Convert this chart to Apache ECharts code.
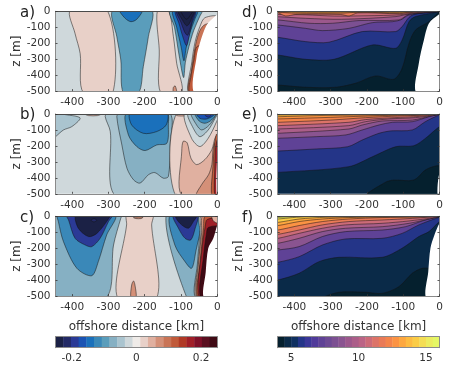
<!DOCTYPE html>
<html>
<head>
<meta charset="utf-8">
<style>html,body{margin:0;padding:0;background:#fff}#main{width:463px;height:366px}</style>
<script src="https://cdn.jsdelivr.net/npm/echarts@6/dist/echarts.min.js"></script>
</head>
<body>
<div id="main"></div>
<script>
// tick labels
const xTicks = [-400, -300, -200, -100, 0];
const zTicks = [-500, -400, -300, -200, -100, 0];
const velTicks = [-0.2, 0, 0.2];
const tempTicks = [5, 10, 15];

// colorbar steps, cold to warm
const velColors = ['#1b2145','#232a66','#2b3a96','#1b53b3','#1a70bb','#3a88b8','#5a9dbb','#86b0c3','#aac4cf','#cfd8db','#efebe8','#e8d0c8','#e0b0a0','#d49078','#c97456','#c05a3a','#b03a26','#a01f28','#7e1028','#5a0f20','#3f0a14'];
const tempColors = ['#05202e','#0a2a48','#0f3060','#243588','#3b3798','#503a9a','#5f4296','#6d4a94','#7c5092','#8a5490','#9c588c','#ab5e89','#bb6485','#cc6b78','#dc7368','#e97a57','#f3844b','#fb9343','#fda73f','#fdbb41','#fbcc46','#f4dd54','#ecec60','#e5f765'];

// contour regions: [level step, [[km, m], ...]]
const full = [[-460,10],[10,10],[10,-510],[-460,-510]];

const panelA = [
  [9, full],
  [11, [[-405,5],[-392,-140],[-378,-265],[-369,-510],[-288,-510],[-303,5]]],
  [6, [[-288,5],[-277,-159],[-266,-305],[-259,-510],[-217,-510],[-204,-347],[-190,-159],[-181,5]]],
  [4, [[-268,5],[-254,-44],[-238,-65],[-222,-50],[-208,5]]],
  [11, [[-165,5],[-160,-242],[-156,-510],[-98,-510],[-112,-326],[-121,-159],[-135,5]]],
  [13, [[-121,-510],[-121,-476],[-116,-468],[-112,-510]]],
  [11, [[-34,-40],[-48,-96],[-61,-190],[-70,-315],[-77,-510],[5,-510],[5,-40]]],
  [14, [[-33,-82],[-48,-120],[-60,-210],[-71,-367],[-78,-510],[5,-510],[5,-82]]],
  [15, [[-55,-220],[-64,-300],[-72,-400],[-75,-510],[5,-510],[5,-220]]],
  [6, [[-130,5],[-118,-100],[-105,-280],[-93,-415],[-88,-320],[-78,-220],[-65,-120],[-48,-30],[-42,5]]],
  [4, [[-122,5],[-112,-100],[-100,-220],[-92,-310],[-86,-230],[-75,-130],[-62,-50],[-55,5]]],
  [2, [[-115,5],[-105,-80],[-95,-160],[-85,-215],[-78,-160],[-70,-80],[-60,5]]],
  [1, [[-112,5],[-100,-70],[-90,-130],[-82,-150],[-75,-110],[-68,-50],[-62,5]]],
  [0, [[-108,5],[-96,-55],[-85,-90],[-78,-80],[-70,-40],[-64,5]]],
  [0, [[-100,5],[-92,-35],[-84,-50],[-76,-30],[-68,5]]]
];
const landA = [[5,-15],[-2,-23],[-29,-85],[-48,-200],[-57,-283],[-64,-510],[5,-510]];

const panelB = [
  [9, full],
  [8, [[-460,-8],[-400,-10],[-378,-27],[-401,-79],[-424,-100],[-460,-160]]],
  [8, [[-309,-15],[-295,-110],[-282,-510],[-116,-510],[-119,-215],[-114,5],[-300,5]]],
  [7, [[-277,-17],[-263,-194],[-249,-340],[-231,-412],[-213,-433],[-190,-381],[-172,-367],[-149,-402],[-135,-392],[-130,-194],[-132,5],[-270,5]]],
  [5, [[-250,5],[-245,-131],[-222,-204],[-199,-229],[-167,-194],[-139,-183],[-135,-69],[-139,5]]],
  [4, [[-240,5],[-236,-69],[-204,-121],[-167,-110],[-141,-69],[-139,5]]],
  [12, [[-365,0],[-355,-10],[-330,-10],[-320,0]]],
  [11, [[-112,5],[-115,-510],[5,-510],[5,5]]],
  [12, [[-98,-510],[-98,-233],[-94,-171],[-83,-181],[-73,-275],[-57,-317],[-34,-285],[-15,-223],[-6,-150],[5,-120],[5,-510]]],
  [13, [[-57,-510],[-43,-442],[-24,-380],[-15,-317],[-10,-200],[5,-150],[5,-510]]],
  [15, [[-15,-510],[-12,-330],[-8,-200],[-3,-130],[5,-120],[5,-510]]],
  [17, [[-7,-510],[-7,-350],[-5,-220],[0,-160],[5,-160],[5,-510]]],
  [12, [[-112,5],[-112,-10],[-86,-10],[-84,5]]],
  [9, [[-89,5],[-71,-152],[-48,-204],[-25,-152],[-2,-48],[5,5]]],
  [8, [[-80,5],[-66,-90],[-48,-142],[-25,-100],[-6,-27],[0,5]]],
  [7, [[-71,5],[-57,-69],[-43,-100],[-22,-69],[-6,-17],[-2,5]]],
  [5, [[-61,5],[-50,-44],[-34,-58],[-16,-38],[-4,5]]],
  [3, [[-57,5],[-48,-27],[-29,-31],[-11,-10],[-8,5]]],
  [2, [[-38,5],[-25,-20],[-13,5]]]
];
const landB = [[5,-200],[-1,-300],[-2,-510],[5,-510]];

const panelC = [
  [9, full],
  [7, [[-460,10],[-460,-510],[-307,-510],[-286,-180],[-266,-12],[-262,10]]],
  [11, [[-249,10],[-250,-54],[-275,-510],[-167,-510],[-181,-54],[-178,10]]],
  [13, [[-238,-510],[-236,-430],[-231,-405],[-227,-430],[-224,-510]]],
  [13, [[-231,-8],[-225,-14],[-210,-14],[-205,-6],[-218,-4]]],
  [7, [[-141,10],[-84,-510],[-50,-510],[-50,10]]],
  [5, [[-440,5],[-438,-33],[-424,-159],[-387,-326],[-346,-372],[-328,-284],[-305,-117],[-282,5]]],
  [2, [[-415,5],[-410,-23],[-392,-138],[-364,-180],[-346,-190],[-323,-138],[-300,-33],[-291,5]]],
  [0, [[-389,5],[-383,-75],[-355,-127],[-332,-107],[-305,-33],[-297,5]]],
  [1, [[-348,-25],[-340,-15],[-332,-25],[-340,-35]]],
  [5, [[-130,5],[-117,-180],[-89,-284],[-71,-326],[-61,-242],[-48,5]]],
  [2, [[-121,5],[-107,-75],[-89,-138],[-73,-148],[-61,-75],[-55,5]]],
  [0, [[-115,5],[-103,-44],[-80,-75],[-66,-33],[-57,5]]],
  [9, [[-48,5],[-48,-100],[-55,-300],[-60,-510],[5,-510],[5,5]]],
  [11, [[-44,5],[-45,-100],[-53,-300],[-58,-510],[5,-510],[5,5]]],
  [13, [[-40,5],[-43,-100],[-52,-300],[-55,-510],[5,-510],[5,5]]],
  [15, [[-33,5],[-38,-80],[-48,-300],[-53,-510],[5,-510],[5,5]]],
  [17, [[-28,-20],[-33,-60],[-42,-200],[-50,-510],[5,-510],[5,-20]]],
  [20, [[-25,-70],[-30,-110],[-38,-250],[-46,-510],[5,-510],[5,-70]]],
  [12, [[-15,5],[-12,-25],[-4,-40],[5,-40],[5,5]]]
];
const landC = [[5,-40],[0,-54],[-11,-138],[-25,-200],[-32,-350],[-37,-510],[5,-510]];

// right column: each line is the lower edge of a warmer layer, [km, m]
const panelD = [
  [1, [[-445,-462],[-369,-476],[-286,-476],[-230,-450],[-176,-405],[-126,-426],[-103,-357],[-84,-200],[-66,-117],[-29,-65],[-2,-8]]],
  [3, [[-445,-274],[-369,-301],[-291,-301],[-185,-211],[-121,-232],[-103,-180],[-84,-65],[-66,-33],[-2,-4]]],
  [6, [[-445,-163],[-369,-190],[-305,-194],[-213,-127],[-121,-127],[-103,-96],[-84,-38],[-66,-17],[-2,-2]]],
  [8, [[-445,-86],[-369,-107],[-323,-121],[-250,-107],[-185,-71],[-130,-65],[-107,-54],[-84,-23],[-2,-2]]],
  [10, [[-445,-54],[-360,-75],[-295,-75],[-222,-58],[-112,-54],[-84,-18],[-40,-8],[-2,-1]]],
  [12, [[-445,-34],[-369,-44],[-270,-50],[-120,-33],[-80,-14],[-40,-6],[-2,0]]],
  [13, [[-445,-20],[-369,-22],[-290,-30],[-200,-28],[-110,-22],[-70,-10],[-40,-4],[-2,0]]],
  [15, [[-445,-10],[-424,-29],[-396,-20],[-272,-20],[-249,-29],[-225,-10],[-110,-15],[-70,-6],[-2,0]]],
  [17, [[-445,-6],[-396,-12],[-272,-12],[-225,-6],[-110,-10],[-70,-3],[-2,0]]],
  [19, [[-445,-3],[-396,-6],[-272,-6],[-200,-3],[-110,-6],[-70,-1],[-2,0]]]
];
const landD = [[5,-15],[-2,-20],[-29,-75],[-43,-180],[-57,-326],[-64,-510],[5,-510]];

const panelE = [
  [3, [[-445,-366],[-250,-330],[-185,-268],[-121,-205],[-71,-199],[-39,-153],[0,-79]]],
  [6, [[-445,-232],[-340,-219],[-253,-205],[-213,-163],[-167,-121],[-135,-106],[-75,-100],[-39,-48],[0,-6]]],
  [9, [[-445,-152],[-340,-142],[-258,-131],[-213,-100],[-167,-69],[-130,-52],[-75,-48],[-29,-17],[0,-3]]],
  [11, [[-445,-121],[-250,-94],[-213,-69],[-158,-44],[-75,-38],[-20,-10],[0,-2]]],
  [12, [[-445,-94],[-250,-73],[-204,-48],[-140,-31],[-66,-23],[-15,-6],[0,-1]]],
  [14, [[-445,-73],[-250,-52],[-204,-35],[-125,-23],[-55,-15],[-10,-4],[0,0]]],
  [16, [[-445,-52],[-300,-38],[-204,-23],[-110,-12],[-50,-8],[0,0]]],
  [17, [[-445,-31],[-300,-21],[-165,-10],[-66,-6],[0,0]]],
  [19, [[-445,-17],[-340,-10],[-204,-6],[-66,-3],[0,0]]],
  [21, [[-445,-6],[-340,-3],[-204,-1],[0,0]]]
];
const deepE = [[-199,-510],[-149,-428],[-126,-414],[-71,-414],[-39,-351],[-11,-326],[5,-330],[5,-510]];
const landE = [[5,-340],[-3,-400],[-5,-510],[5,-510]];

const panelF = [
  [3, [[-445,-399],[-387,-357],[-332,-284],[-277,-257],[-158,-257],[-103,-200],[-57,-127],[-29,-96],[0,-33]]],
  [6, [[-445,-288],[-387,-253],[-323,-180],[-259,-142],[-158,-138],[-103,-107],[-57,-54],[0,-6]]],
  [9, [[-445,-211],[-387,-190],[-323,-127],[-259,-96],[-158,-86],[-94,-65],[-39,-23],[0,-3]]],
  [11, [[-445,-169],[-387,-138],[-323,-96],[-259,-75],[-158,-65],[-84,-44],[-29,-17],[0,-2]]],
  [13, [[-445,-138],[-387,-107],[-323,-75],[-259,-54],[-158,-44],[-84,-29],[-20,-10],[0,-1]]],
  [15, [[-445,-113],[-387,-86],[-323,-54],[-250,-33],[-158,-23],[-75,-13],[0,0]]],
  [17, [[-445,-86],[-387,-58],[-323,-33],[-250,-17],[-158,-8],[-60,-5],[0,0]]],
  [18, [[-445,-58],[-387,-33],[-323,-17],[-250,-8],[-158,-4],[0,0]]],
  [20, [[-445,-38],[-387,-17],[-313,-6],[-200,-2],[0,0]]],
  [22, [[-445,-17],[-405,-8],[-360,-2],[-300,0]]],
  [23, [[-445,-6],[-405,-2],[-380,0]]]
];
const deepF = [[-318,-510],[-277,-476],[-204,-476],[-158,-483],[-112,-441],[-75,-357],[-48,-326],[-25,-326],[5,-326],[5,-510]];
const landF = [[5,-44],[0,-44],[-14,-117],[-25,-200],[-31,-347],[-37,-510],[5,-510]];

const lineColor = 'rgba(20,20,20,0.85)';

function withTop(regions) {
  return regions.map(r => {
    const line = r[1];
    const last = line[line.length - 1];
    return [r[0], [[-460, line[0][1]]].concat(line, [[10, last[1]], [10, 10], [-460, 10]])];
  });
}

const columns = [
  {left: 55.5, x: 0, colors: velColors},
  {left: 277.7, x: 1, colors: tempColors}
];
const rows = [11.3, 114, 216.3];
const panelW = 161.8, panelH = 79.8;

const panels = [
  {name: 'a)', col: 0, row: 0, regions: panelA, land: landA},
  {name: 'b)', col: 0, row: 1, regions: panelB, land: landB},
  {name: 'c)', col: 0, row: 2, regions: panelC, land: landC},
  {name: 'd)', col: 1, row: 0, regions: [[0, full]].concat(withTop(panelD)), land: landD},
  {name: 'e)', col: 1, row: 1, regions: [[1, full], [0, deepE]].concat(withTop(panelE)), land: landE},
  {name: 'f)', col: 1, row: 2, regions: [[1, full], [0, deepF]].concat(withTop(panelF)), land: landF}
];

const tickFont = {fontFamily: 'DejaVu Sans', fontSize: 10.5, color: '#333'};
const frame = {show: true, onZero: false, lineStyle: {color: '#8a8a8a', width: 1}};
const topFrame = {show: true, onZero: false, lineStyle: {color: '#4a4a4a', width: 1}};

const grid = [], xAxis = [], yAxis = [], series = [], graphic = [];

function addFrame(gridIndex, xOpt, yOpt, topLine) {
  xAxis.push(Object.assign({type: 'value', gridIndex: gridIndex, position: 'bottom', z: 5, axisLine: frame, splitLine: {show: false}}, xOpt));
  xAxis.push({type: 'value', gridIndex: gridIndex, position: 'top', min: xOpt.min, max: xOpt.max, z: 5, axisLine: topLine, axisTick: {show: false}, axisLabel: {show: false}, splitLine: {show: false}});
  yAxis.push(Object.assign({type: 'value', gridIndex: gridIndex, position: 'left', z: 5, axisLine: frame, splitLine: {show: false}}, yOpt));
  yAxis.push({type: 'value', gridIndex: gridIndex, position: 'right', min: yOpt.min, max: yOpt.max, z: 5, axisLine: frame, axisTick: {show: yOpt.rightTicks !== false, inside: true, length: 2, lineStyle: {color: '#333', width: 0.8}, customValues: zTicks}, axisLabel: {show: false}, splitLine: {show: false}});
}

panels.forEach((p, i) => {
  const left = columns[p.col].left;
  const top = rows[p.row];
  const colors = columns[p.col].colors;
  grid.push({left: left, top: top, width: panelW, height: panelH});
  addFrame(i, {
    min: -446, max: 0,
    name: p.row === 2 ? 'offshore distance [km]' : '',
    nameLocation: 'middle', nameGap: 25,
    nameTextStyle: {fontFamily: 'DejaVu Sans', fontSize: 12, color: '#333'},
    axisTick: {show: true, inside: true, length: 2, lineStyle: {color: '#333', width: 0.8}, customValues: xTicks},
    axisLabel: Object.assign({margin: 6, customValues: xTicks, hideOverlap: false, showMinLabel: true, showMaxLabel: true}, tickFont)
  }, {
    min: -500, max: 0, interval: 100,
    name: 'z [m]', nameLocation: 'middle', nameGap: 32,
    nameTextStyle: {fontFamily: 'DejaVu Sans', fontSize: 12, color: '#333'},
    axisTick: {show: true, inside: true, length: 2, lineStyle: {color: '#333', width: 0.8}},
    axisLabel: Object.assign({margin: 5}, tickFont)
  }, topFrame);
  const all = p.regions.concat([[-1, p.land]]);
  series.push({
    type: 'custom', xAxisIndex: i * 2, yAxisIndex: i * 2, clip: true, silent: true, animation: false,
    data: all.map((r, k) => [k]),
    renderItem: function (params, api) {
      const r = all[params.dataIndex];
      return {
        type: 'polygon',
        shape: {points: r[1].map(pt => api.coord(pt)), smooth: r[1] === full ? 0 : 0.3},
        style: r[0] < 0 ? {fill: '#fff', stroke: null}
                        : {fill: colors[r[0]], stroke: lineColor, lineWidth: 0.6}
      };
    }
  });
  graphic.push({
    type: 'text', left: (p.col ? 242 : 20), top: top - 6, z: 10,
    style: {text: p.name, fontFamily: 'DejaVu Sans', fontSize: 15, fill: '#222'}
  });
});

// colorbars
columns.forEach((c, k) => {
  const g = 6 + k;
  const lo = k ? 4 : -0.25, hi = k ? 16 : 0.25;
  const ticks = k ? tempTicks : velTicks;
  grid.push({left: c.left, top: 336.7, width: panelW, height: 11});
  addFrame(g, {
    min: lo, max: hi,
    axisTick: {show: false},
    axisLabel: Object.assign({margin: 5, customValues: ticks}, tickFont)
  }, {
    min: 0, max: 1, rightTicks: false,
    axisTick: {show: false}, axisLabel: {show: false}
  }, frame);
  const step = (hi - lo) / c.colors.length;
  series.push({
    type: 'custom', xAxisIndex: g * 2, yAxisIndex: g * 2, silent: true, animation: false,
    data: c.colors.map((col, n) => [lo + n * step]),
    renderItem: function (params, api) {
      const a = api.coord([api.value(0), 1]);
      const b = api.coord([api.value(0) + step, 0]);
      return {
        type: 'rect',
        shape: {x: a[0], y: a[1], width: b[0] - a[0] + 0.4, height: b[1] - a[1]},
        style: {fill: c.colors[params.dataIndex]}
      };
    }
  });
});

const chart = echarts.init(document.getElementById('main'), null, {renderer: 'canvas'});
chart.setOption({animation: false, backgroundColor: '#fff', grid: grid, xAxis: xAxis, yAxis: yAxis, series: series, graphic: graphic});
</script>
</body>
</html>
